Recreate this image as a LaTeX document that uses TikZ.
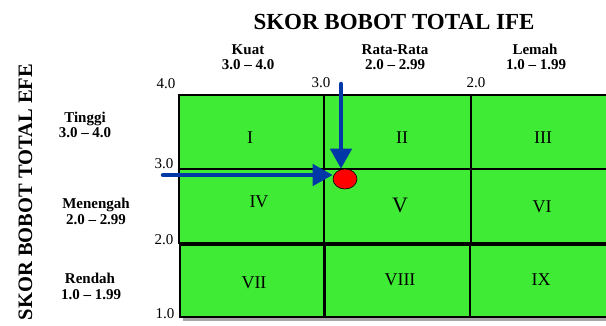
\documentclass[tikz,border=0pt]{standalone}
\usepackage{fontspec}
\setmainfont{Liberation Serif}
\usetikzlibrary{arrows.meta,shapes.geometric}
\definecolor{cellgreen}{RGB}{64,235,53}
\definecolor{arrowblue}{RGB}{0,56,168}
\newcommand{\fsz}[1]{\fontsize{#1}{#1}\selectfont}
\begin{document}
\begin{tikzpicture}[x=1pt,y=-1pt,
  cell/.style={draw=black, line width=2pt, fill=cellgreen, inner sep=0pt},
  txt/.style={inner sep=0pt, anchor=base},
  hdr/.style={txt, font=\fsz{15}\bfseries},
  tick/.style={txt, font=\fsz{15}},
  roman/.style={txt, font=\fsz{18}},
  bluearrow/.style={draw=arrowblue, line width=4.5pt, line cap=round,
    -{Triangle[length=20pt,width=21pt]}}]
\useasboundingbox (0,0) rectangle (606,325);
\clip (0,0) rectangle (606,325);

% titles
\node[txt, font=\fsz{23}\bfseries] (title) at (394,29) {SKOR BOBOT TOTAL IFE};
\node[txt, font=\fsz{20.5}\bfseries, rotate=90] (vtitle) at (32,192) {SKOR BOBOT TOTAL EFE};

% column headers
\node[hdr] (k1) at (248,54) {Kuat};
\node[hdr] (k2) at (248,69) {3.0 – 4.0};
\node[hdr] (r1) at (395,54) {Rata-Rata};
\node[hdr] (r2) at (395,69) {2.0 – 2.99};
\node[hdr] (l1) at (535,54) {Lemah};
\node[hdr] (l2) at (536,69) {1.0 – 1.99};

% row headers
\node[hdr] (t1) at (85,122) {Tinggi};
\node[hdr] (t2) at (85,137) {3.0 – 4.0};
\node[hdr] (m1) at (96,208) {Menengah};
\node[hdr] (m2) at (96,224) {2.0 – 2.99};
\node[hdr] (d1) at (90,283) {Rendah};
\node[hdr] (d2) at (91,299) {1.0 – 1.99};

% tick labels
\node[tick] (x4) at (166,88) {4.0};
\node[tick] (x3) at (321,87) {3.0};
\node[tick] (x2) at (476,87) {2.0};
\node[tick] (y3) at (164,168) {3.0};
\node[tick] (y2) at (164,244) {2.0};
\node[tick] (y1) at (165,318) {1.0};

% shadow under bottom row
\fill[gray!70] (183,317) rectangle (606,321);

% cells
\node[cell, minimum width=145pt, minimum height=74pt] (c1) at (251.5,132) {};
\node[cell, minimum width=147pt, minimum height=74pt] (c2) at (397.5,132) {};
\node[cell, minimum width=144pt, minimum height=74pt] (c3) at (543,132) {};
\node[cell, minimum width=145pt, minimum height=74pt] (c4) at (251.5,206) {};
\node[cell, minimum width=147pt, minimum height=74pt] (c5) at (397.5,206) {};
\node[cell, minimum width=144pt, minimum height=74pt] (c6) at (543,206) {};
\node[cell, minimum width=144pt, minimum height=72pt] (c7) at (252,281) {};
\node[cell, minimum width=145pt, minimum height=72pt] (c8) at (397.5,281) {};
\node[cell, minimum width=145pt, minimum height=72pt] (c9) at (542.5,281) {};

% roman numerals
\node[roman] (n1) at (250,143) {I};
\node[roman] (n2) at (402,143) {II};
\node[roman] (n3) at (543,143) {III};
\node[roman] (n4) at (259,207) {IV};
\node[txt, font=\fsz{22}] (n5) at (400,212) {V};
\node[roman] (n6) at (542,212) {VI};
\node[roman] (n7) at (254,288) {VII};
\node[roman] (n8) at (400,285) {VIII};
\node[roman] (n9) at (541,285) {IX};

% position marker and arrows
\node[ellipse, draw=black, line width=0.6pt, fill=red, minimum width=24pt,
      minimum height=20pt, inner sep=0pt] (dot) at (345,179) {};
\coordinate (va) at (341,84);
\coordinate (ha) at (163,175);
\draw[bluearrow] (va) -- (va |- dot.north);
\draw[bluearrow] (ha) -- (ha -| dot.west);
\end{tikzpicture}
\end{document}
